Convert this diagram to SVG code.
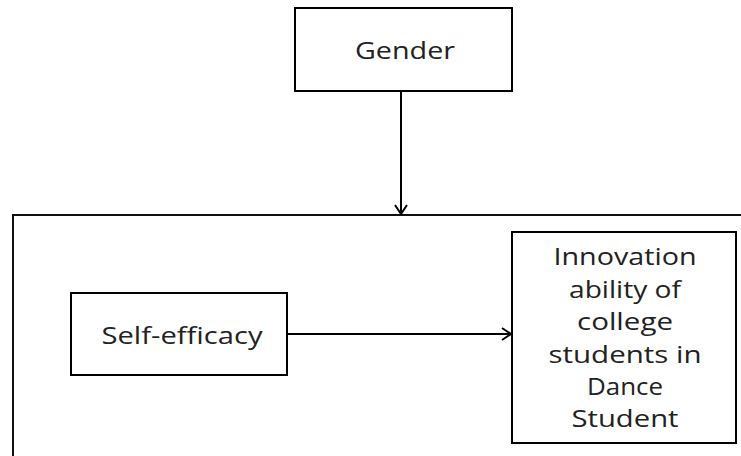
<svg xmlns="http://www.w3.org/2000/svg" width="741" height="456" viewBox="0 0 741 456">
<defs>
<style>
.box{fill:#fff;stroke:#000;stroke-width:2}
.frame{fill:none;stroke:#111;stroke-width:2}
.edge{fill:none;stroke:#000;stroke-width:2}
.lbl{font-family:"Open Sans","DejaVu Sans",sans-serif;font-size:24px;fill:#222;text-anchor:middle}
</style>
<marker id="arr" markerWidth="14" markerHeight="14" refX="11" refY="7" orient="auto" markerUnits="userSpaceOnUse">
<path d="M2,1 L11,7 L2,13" fill="none" stroke="#000" stroke-width="2"/>
</marker>
</defs>
<rect width="741" height="456" fill="#fff"/>
<g id="frame"><rect class="frame" x="13" y="215" width="800" height="300"/></g>
<g id="connectors">
<line class="edge" x1="401" y1="91" x2="401" y2="214" marker-end="url(#arr)"/>
<line class="edge" x1="287" y1="334" x2="511" y2="334" marker-end="url(#arr)"/>
</g>
<g id="gender">
<rect class="box" x="295" y="8" width="217" height="83"/>
<text class="lbl" x="405" y="59" textLength="100" lengthAdjust="spacingAndGlyphs">Gender</text>
</g>
<g id="self-efficacy">
<rect class="box" x="71" y="293" width="216" height="82"/>
<text class="lbl" x="182" y="344" textLength="161" lengthAdjust="spacingAndGlyphs">Self-efficacy</text>
</g>
<g id="innovation">
<rect class="box" x="512" y="232" width="224" height="211"/>
<text class="lbl" x="625" y="265" textLength="143" lengthAdjust="spacingAndGlyphs">Innovation</text>
<text class="lbl" x="625" y="298" textLength="112" lengthAdjust="spacingAndGlyphs">ability of</text>
<text class="lbl" x="625" y="330" textLength="96" lengthAdjust="spacingAndGlyphs">college</text>
<text class="lbl" x="625" y="363" textLength="153" lengthAdjust="spacingAndGlyphs">students  in</text>
<text class="lbl" x="625" y="395" textLength="76" lengthAdjust="spacingAndGlyphs">Dance</text>
<text class="lbl" x="625" y="427" textLength="107" lengthAdjust="spacingAndGlyphs">Student</text>
</g>
</svg>
